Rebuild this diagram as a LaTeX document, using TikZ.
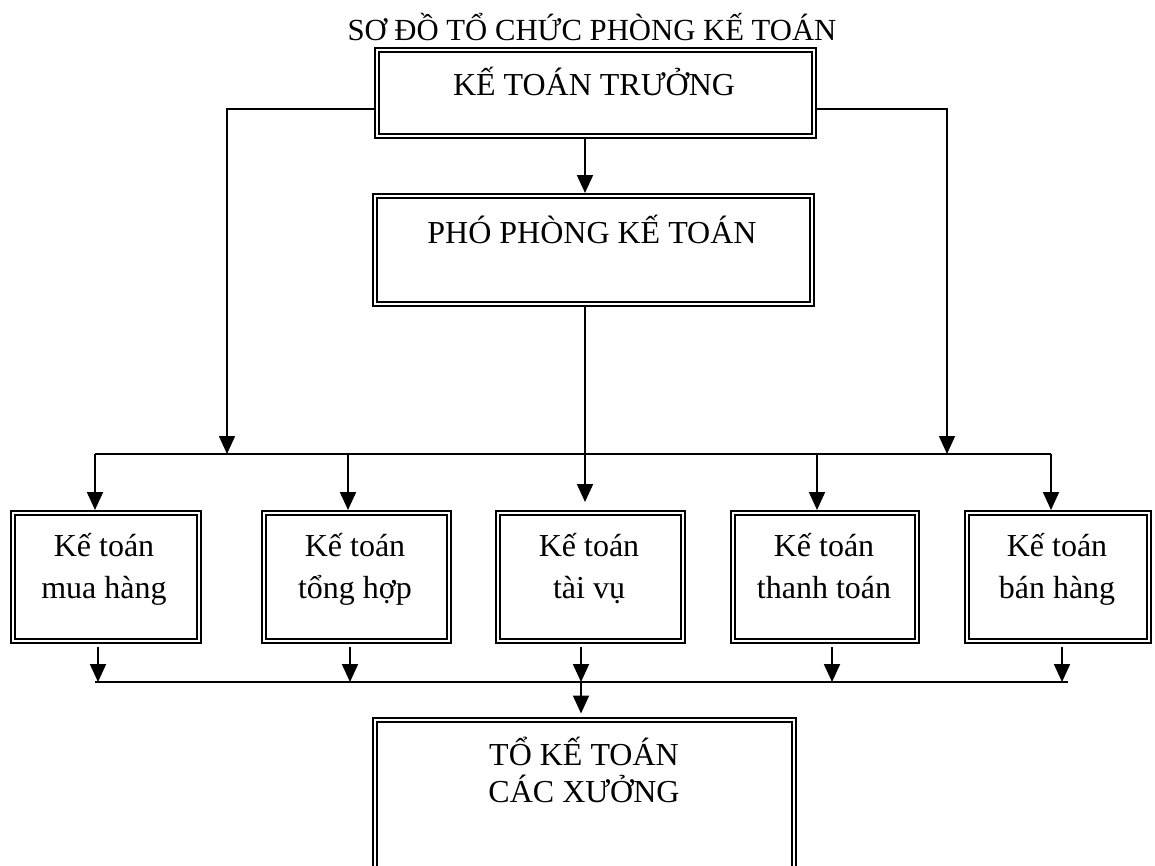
\documentclass[tikz,border=0pt]{standalone}
\usepackage{fontspec}
\setmainfont{Liberation Serif}
\usetikzlibrary{arrows.meta}
\begin{document}
\begin{tikzpicture}[x=1pt,y=-1pt,
  font=\fontsize{32}{38}\selectfont,
  dbox/.style 2 args={draw=black, double=white, double distance=1.8pt,
    line width=2.1pt, outer sep=3pt, inner sep=0pt,
    minimum width=#1, minimum height=#2},
  lbl/.style={anchor=base, inner sep=0pt},
  arrow/.style={line width=1.9pt, -{Triangle[width=16pt,length=18pt]}},
  feed/.style={line width=1.6pt, -{Triangle[width=16pt,length=18pt]}},
  bus/.style={line width=1.4pt}
]
\useasboundingbox (0,0) rectangle (1155,865);
\clip (0,0) rectangle (1155,865);

% title
\node[lbl, font=\fontsize{30.7}{36}\selectfont] (title) at (592,40) {SƠ ĐỒ TỔ CHỨC PHÒNG KẾ TOÁN};

% boxes
\node[dbox={437pt}{86pt}]  (A)  at (595.5,93) {};
\node[dbox={437pt}{108pt}] (B)  at (593.5,250) {};
\node[dbox={186pt}{128pt}] (k1) at (106,577) {};
\node[dbox={185pt}{128pt}] (k2) at (356.5,577) {};
\node[dbox={185pt}{128pt}] (k3) at (590.5,577) {};
\node[dbox={184pt}{128pt}] (k4) at (825,577) {};
\node[dbox={182pt}{128pt}] (k5) at (1058,577) {};
\node[dbox={419pt}{182pt}] (C)  at (584.5,811) {};

% box texts
\node[lbl] (tA) at (594,95) {KẾ TOÁN TRƯỞNG};
\node[lbl] (tB) at (592,243) {PHÓ PHÒNG KẾ TOÁN};
\node[lbl] (t1a) at (104,556) {Kế toán};
\node[lbl] (t1b) at (104,598) {mua hàng};
\node[lbl] (t2a) at (355,556) {Kế toán};
\node[lbl] (t2b) at (355,598) {tổng hợp};
\node[lbl] (t3a) at (589,556) {Kế toán};
\node[lbl] (t3b) at (589,598) {tài vụ};
\node[lbl] (t4a) at (824,556) {Kế toán};
\node[lbl] (t4b) at (824,598) {thanh toán};
\node[lbl] (t5a) at (1057,556) {Kế toán};
\node[lbl] (t5b) at (1057,598) {bán hàng};
\node[lbl] (tCa) at (584,765) {TỔ KẾ TOÁN};
\node[lbl] (tCb) at (584,802) {CÁC XƯỞNG};

% helper coordinates
\coordinate (mid)  at (585,0);
\coordinate (bar1) at (0,454);
\coordinate (bar2) at (0,682);
\coordinate (jl)   at (227,454);
\coordinate (jr)   at (947,454);

% from the chief accountant
\draw[feed] ([yshift=-16pt]A.west) -| (jl);
\draw[feed] ([yshift=-16pt]A.east) -| (jr);
\draw[arrow] (A.south -| mid) -- (B.north -| mid);
\draw[arrow, shorten >=8pt] (B.south -| mid) -- (k3.north -| mid);

% upper distribution bar
\draw[bus] ([xshift=-11pt]k1.north |- bar1) -- ([xshift=-7pt]k5.north |- bar1);
\draw[arrow] ([xshift=-11pt]k1.north |- bar1) -- ([xshift=-11pt]k1.north);
\draw[arrow] ([xshift=-8.5pt]k2.north |- bar1) -- ([xshift=-8.5pt]k2.north);
\draw[arrow] ([xshift=-8pt]k4.north |- bar1) -- ([xshift=-8pt]k4.north);
\draw[arrow] ([xshift=-7pt]k5.north |- bar1) -- ([xshift=-7pt]k5.north);

% lower collecting bar
\draw[bus] ([xshift=-11pt]k1.south |- bar2) -- ([xshift=10pt]k5.south |- bar2);
\draw[arrow, shorten <=3pt] ([xshift=-8pt]k1.south) -- ([xshift=-8pt]k1.south |- bar2);
\draw[arrow, shorten <=3pt] ([xshift=-6.5pt]k2.south) -- ([xshift=-6.5pt]k2.south |- bar2);
\draw[arrow, shorten <=3pt] ([xshift=-9.5pt]k3.south) -- ([xshift=-9.5pt]k3.south |- bar2);
\draw[arrow, shorten <=3pt] ([xshift=7pt]k4.south) -- ([xshift=7pt]k4.south |- bar2);
\draw[arrow, shorten <=3pt] ([xshift=4pt]k5.south) -- ([xshift=4pt]k5.south |- bar2);
\draw[arrow, shorten >=3.5pt] ([xshift=-3.5pt]C.north |- bar2) -- ([xshift=-3.5pt]C.north);
\end{tikzpicture}
\end{document}
